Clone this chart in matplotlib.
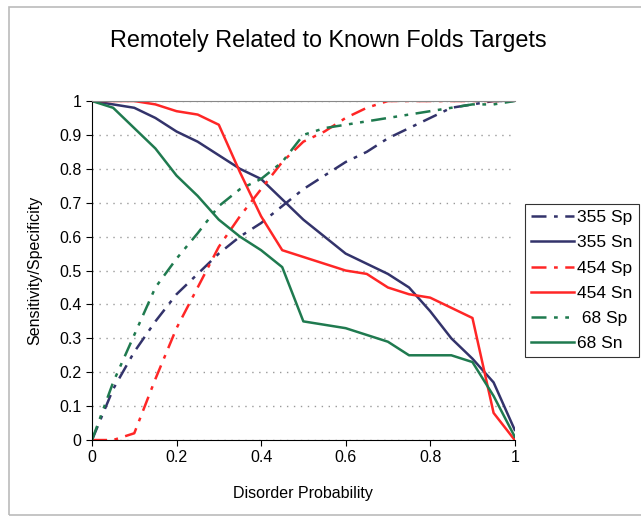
import numpy as np
import matplotlib
matplotlib.use('Agg')
from matplotlib import pyplot as plt

plt.rcParams['font.family'] = ['Liberation Sans', 'DejaVu Sans']

# disorder probability thresholds
prob = [0.0, 0.05, 0.1, 0.15, 0.2, 0.25, 0.3, 0.35, 0.4, 0.45, 0.5,
        0.55, 0.6, 0.65, 0.7, 0.75, 0.8, 0.85, 0.9, 0.95, 1.0]

sp355 = [0.0, 0.15, 0.26, 0.35, 0.43, 0.49, 0.55, 0.60, 0.64, 0.69, 0.74,
         0.78, 0.82, 0.85, 0.89, 0.92, 0.95, 0.98, 0.99, 1.0, 1.0]
sn355 = [1.0, 0.99, 0.98, 0.95, 0.91, 0.88, 0.84, 0.80, 0.77, 0.71, 0.65,
         0.60, 0.55, 0.52, 0.49, 0.45, 0.38, 0.30, 0.24, 0.17, 0.03]
sp454 = [0.0, 0.0, 0.02, 0.18, 0.33, 0.45, 0.57, 0.66, 0.74, 0.82, 0.88,
         0.91, 0.95, 0.98, 1.0, 1.0, 1.0, 1.0, 1.0, 1.0, 1.0]
sn454 = [1.0, 1.0, 1.0, 0.99, 0.97, 0.96, 0.93, 0.79, 0.66, 0.56, 0.54,
         0.52, 0.50, 0.49, 0.45, 0.43, 0.42, 0.39, 0.36, 0.08, 0.0]
sp68 = [0.0, 0.17, 0.31, 0.45, 0.535, 0.61, 0.69, 0.74, 0.77, 0.82, 0.90,
        0.92, 0.93, 0.94, 0.95, 0.96, 0.97, 0.98, 0.99, 0.99, 1.0]
sn68 = [1.0, 0.98, 0.92, 0.86, 0.78, 0.72, 0.65, 0.60, 0.56, 0.51, 0.35,
        0.34, 0.33, 0.31, 0.29, 0.25, 0.25, 0.25, 0.23, 0.13, 0.01]

navy = '#33336b'
red = '#ff2626'
green = '#1f7a4f'
dashdot = (0, (6, 3, 1.5, 3))
dashdotdot = (0, (6, 3, 1.5, 3, 1.5, 3))

fig = plt.figure(figsize=(6.41, 5.22), dpi=100)
ax = fig.add_axes([0.1435, 0.157, 0.6595, 0.6495])

lw = 1.8
ax.plot(prob, sp355, color=navy, linestyle=dashdot, linewidth=lw, label='355 Sp')
ax.plot(prob, sn355, color=navy, linestyle='-', linewidth=lw, label='355 Sn')
ax.plot(prob, sp454, color=red, linestyle=dashdot, linewidth=lw, label='454 Sp')
ax.plot(prob, sn454, color=red, linestyle='-', linewidth=lw, label='454 Sn')
ax.plot(prob, sp68, color=green, linestyle=dashdotdot, linewidth=lw, label=' 68 Sp')
ax.plot(prob, sn68, color=green, linestyle='-', linewidth=lw, label='68 Sn')

ax.set_xlim(0, 1)
ax.set_ylim(0, 1)
ax.set_xticks([0, 0.2, 0.4, 0.6, 0.8, 1.0])
ax.set_xticklabels(['0', '0.2', '0.4', '0.6', '0.8', '1'])
ax.set_yticks(np.arange(0, 1.01, 0.1))
ax.set_yticklabels(['0', '0.1', '0.2', '0.3', '0.4', '0.5', '0.6', '0.7', '0.8', '0.9', '1'])
ax.tick_params(labelsize=11.5, direction='out', length=4, width=0.8)
ax.yaxis.grid(True, color='#999999', linestyle=(0, (1, 4)), linewidth=1)
ax.set_axisbelow(True)
ax.spines['right'].set_visible(False)
ax.spines['top'].set_color('#888888')
ax.spines['top'].set_linewidth(0.8)

ax.set_xlabel('Disorder Probability', fontsize=11.5)
ax.set_ylabel('Sensitivity/Specificity', fontsize=11.5)
ax.xaxis.set_label_coords(0.5, -0.136)
ax.yaxis.set_label_coords(-0.118, 0.5)
fig.text(0.512, 0.923, 'Remotely Related to Known Folds Targets', ha='center',
         va='center', fontsize=16.8)

leg = ax.legend(loc='upper left', bbox_to_anchor=(525 / 641, 1 - 204 / 522),
                bbox_transform=fig.transFigure, borderaxespad=0, fontsize=12.5,
                frameon=True, fancybox=False, edgecolor='black',
                handlelength=2.5, handletextpad=0.15, borderpad=0.35,
                labelspacing=0.58)
leg.get_frame().set_linewidth(0.8)

# faint outer frame of the chart area
fig.patches.append(plt.Rectangle((9 / 641, 7 / 522), 1.2, 1 - 14 / 522,
                                 transform=fig.transFigure, fill=False,
                                 edgecolor='#bbbbbb', linewidth=1.2))

fig.savefig('out.png', dpi=100)
